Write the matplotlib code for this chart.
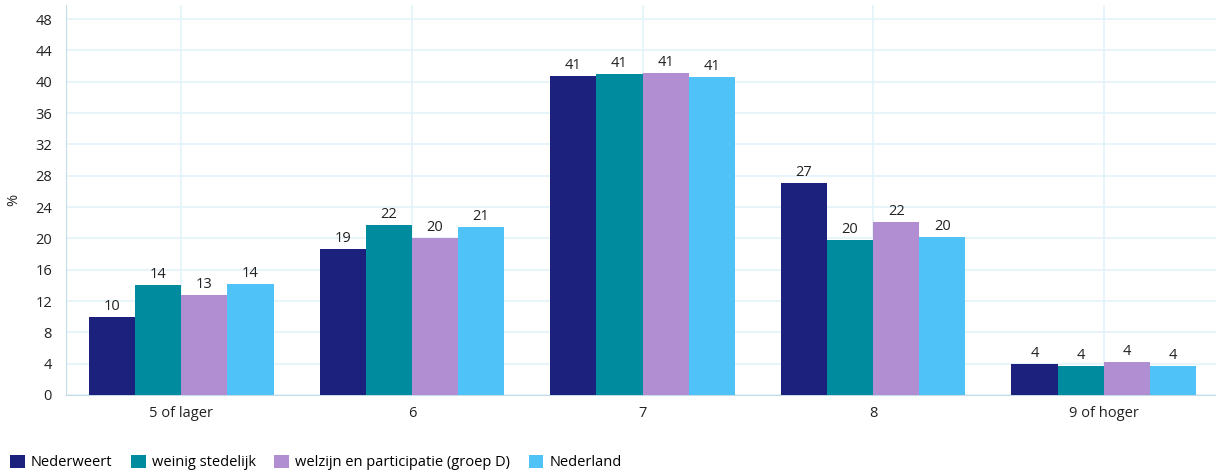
import numpy as np
import matplotlib.pyplot as plt
from matplotlib.patches import Patch

plt.rcParams['font.family'] = ['Open Sans', 'DejaVu Sans']

# data
categories = ['5 of lager', '6', '7', '8', '9 of hoger']
series_names = ['Nederweert', 'weinig stedelijk', 'welzijn en participatie (groep D)', 'Nederland']
nederweert = [10.0, 18.6, 40.7, 27.1, 4.0]
weinig_stedelijk = [14.0, 21.7, 41.0, 19.8, 3.7]
welzijn = [12.8, 20.0, 41.1, 22.1, 4.2]
nederland = [14.2, 21.4, 40.6, 20.2, 3.7]
y_ticks = list(range(0, 49, 4))

colors = ['#1b217c', '#008c9e', '#b18dd2', '#4fc3f7']
all_vals = [nederweert, weinig_stedelijk, welzijn, nederland]

fig = plt.figure(figsize=(12.16, 4.75), dpi=100)
ax = fig.add_axes([66 / 1216, 80 / 475, 1153 / 1216, 390 / 475])

x = np.arange(len(categories))
w = 0.2
for i, vals in enumerate(all_vals):
    pos = x + (i - 1.5) * w
    ax.bar(pos, vals, width=w, color=colors[i], zorder=3)
    for px, v in zip(pos, vals):
        ax.text(px, v + 0.4, str(int(round(v))), ha='center', va='bottom',
                fontsize=10.5, color='#222222', zorder=4)

ax.set_xlim(-0.5, 4.5)
ax.set_ylim(0, 49.8)
ax.set_yticks(y_ticks)
ax.set_xticks(x)
ax.set_xticklabels(categories)
ax.tick_params(axis='both', length=0, labelsize=10.5, colors='#222222')
ax.tick_params(axis='x', pad=8)
ax.tick_params(axis='y', pad=10)
ax.grid(True, color='#e3f3fa', linewidth=1.2, zorder=0)
for s in ['top', 'right']:
    ax.spines[s].set_visible(False)
ax.spines['left'].set_color('#c5dbe6')
ax.spines['bottom'].set_color('#c5dbe6')
ax.set_ylabel('%', fontsize=10.5, color='#222222', labelpad=10)

handles = [Patch(facecolor=c, edgecolor='none') for c in colors]
fig.legend(handles, series_names, loc='lower left', bbox_to_anchor=(0.0, -0.012),
           ncol=4, frameon=False, fontsize=10.5, handlelength=1.0, handleheight=1.0,
           handletextpad=0.4, columnspacing=1.3, borderaxespad=0.3)

fig.savefig('out.png', dpi=100)
